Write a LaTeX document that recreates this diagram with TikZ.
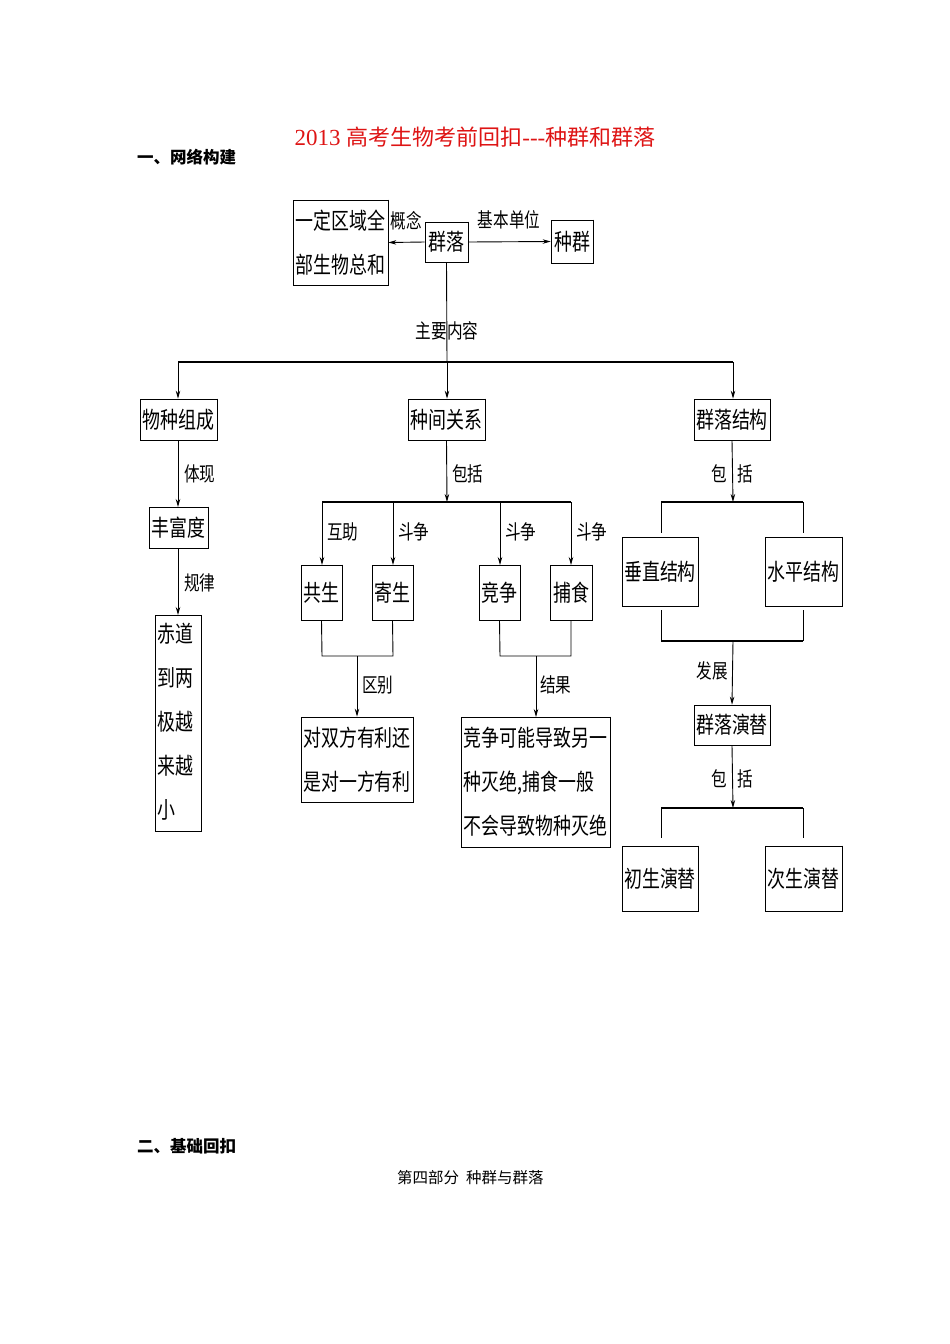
\documentclass[tikz,border=0pt]{standalone}
\usepackage{fontspec}
\usetikzlibrary{arrows.meta}
\newfontfamily\cjk{Noto Sans CJK SC}
\newfontfamily\cjkn[FakeStretch=0.78]{Noto Sans CJK SC}
\newfontfamily\lserif{Liberation Serif}
\definecolor{titlered}{RGB}{222,20,20}
\tikzset{
  bx/.style={draw, line width=0.7pt, inner sep=1pt, align=left,
    font=\cjkn\fontsize{23}{44}\selectfont},
  lbl/.style={inner sep=0pt, font=\cjkn\fontsize{20}{20}\selectfont},
  conn/.style={line width=0.9pt},
  bar/.style={line width=1.4pt},
  arr/.style={line width=0.9pt, -{Stealth[length=8pt,width=4.5pt]}},
  shadowedge/.style={line width=1.4pt}
}
\begin{document}
\begin{tikzpicture}[x=1pt,y=-1pt]
\useasboundingbox (0,0) rectangle (950,1344);
% headings
\node[font=\cjk\fontsize{22}{22}\selectfont, text=titlered] (title) at (475,137) {{\lserif\fontsize{23}{23}\selectfont 2013 }高考生物考前回扣{\lserif\fontsize{23}{23}\selectfont ---}种群和群落};
\node[anchor=west, inner sep=0pt, font=\cjk\bfseries\fontsize{16.5}{16.5}\selectfont] (h1) at (137,157) {一、网络构建};
\node[anchor=west, inner sep=0pt, font=\cjk\bfseries\fontsize{16.5}{16.5}\selectfont] (h2) at (137,1146) {二、基础回扣};
\node[anchor=west, inner sep=0pt, font=\cjk\fontsize{15.5}{15.5}\selectfont] (foot) at (397,1178) {第四部分\ \ 种群与群落};

% top row
\node[bx, minimum width=95, minimum height=85] (def) at (340.5,242.5) {一定区域全\\部生物总和};
\node[bx, minimum width=43, minimum height=40] (ql) at (446.5,242) {群落};
\node[bx, minimum width=42, minimum height=43] (zq) at (572,241.5) {种群};
\draw[arr] (ql.west) -- (def.east);
\draw[arr] (ql.east) -- (zq.west);
\node[lbl] (l1) at (406,221) {概念};
\node[lbl] (l2) at (509,220) {基本单位};

% main split
\coordinate (hL) at (178,362);
\coordinate (hM) at (447,362);
\coordinate (hR) at (733,362);
\draw[conn] (ql.south) -- (hM);
\node[lbl] (l3) at (447,331) {主要内容};
\draw[bar] (hL) -- (hR);

\node[bx, minimum width=77, minimum height=41] (wz) at (178.5,419.5) {物种组成};
\node[bx, minimum width=77, minimum height=41] (zj) at (446.5,419.5) {种间关系};
\node[bx, minimum width=76, minimum height=41] (jg) at (732,419.5) {群落结构};
\draw[arr] (hL) -- (hL |- wz.north);
\draw[arr] (hM) -- (hM |- zj.north);
\draw[arr] (hR) -- (hR |- jg.north);

% left branch
\node[bx, minimum width=59, minimum height=41] (fd) at (178.5,527.5) {丰富度};
\node[bx, minimum width=46, minimum height=216, anchor=north] (cd) at (178,615) {};
\node[anchor=north west, inner sep=0pt, align=left, font=\cjkn\fontsize{23}{44}\selectfont] (cdt) at ([xshift=3pt,yshift=-8pt]cd.north west) {赤道\\到两\\极越\\来越\\小};
\draw[arr] (178,440) -- (178,507);
\node[lbl, anchor=west] (l4) at (184,474) {体现};
\draw[arr] (178,548) -- (cd.north);
\node[lbl, anchor=west] (l5) at (184,583) {规律};

% middle branch
\coordinate (m1) at (447,502);
\draw[arr] (zj.south) -- (m1);
\node[lbl, anchor=west] (l6) at (452,474) {包括};
\draw[bar] (322,502) -- (571,502);
\node[bx, minimum width=41, minimum height=55] (gs) at (321.5,592.5) {共生};
\node[bx, minimum width=41, minimum height=55] (js) at (392.5,592.5) {寄生};
\node[bx, minimum width=41, minimum height=55] (jz) at (499.5,592.5) {竞争};
\node[bx, minimum width=42, minimum height=55] (bs) at (571,592.5) {捕食};
\draw[arr] (322,502) -- (322,565);
\draw[arr] (393,502) -- (393,565);
\draw[arr] (500,502) -- (500,565);
\draw[arr] (571,502) -- (571,565);
\node[lbl, anchor=west] (l7) at (327,532) {互助};
\node[lbl, anchor=west] (l8) at (398,532) {斗争};
\node[lbl, anchor=west] (l9) at (505,532) {斗争};
\node[lbl, anchor=west] (l10) at (576,532) {斗争};

\node[bx, minimum width=112, minimum height=85] (qb) at (357,759.5) {对双方有利还\\是对一方有利};
\node[bx, minimum width=149, minimum height=130] (jg2) at (535.5,782) {竞争可能导致另一\\种灭绝,捕食一般\\不会导致物种灭绝};
\draw[conn] (gs.south) -- (322,656) -- (393,656) -- (js.south);
\draw[arr] (357,656) -- (qb.north);
\node[lbl, anchor=west] (l11) at (362,685) {区别};
\draw[conn] (jz.south) -- (500,656) -- (571,656) -- (bs.south);
\draw[arr] (536,656) -- (536,717);
\node[lbl, anchor=west] (l12) at (540,685) {结果};

% right branch
\draw[arr] (jg.south) -- (733,502);
\node[lbl] (l13) at (719,474) {包};
\node[lbl] (l14) at (745,474) {括};
\draw[bar] (661,502) -- (803,502);
\draw[conn] (661,502) -- (661,533);
\draw[conn] (803,502) -- (803,533);
\node[bx, minimum width=76, minimum height=69] (cz) at (660,571.5) {垂直结构};
\node[bx, minimum width=77, minimum height=69] (sp) at (803.5,571.5) {水平结构};
\draw[conn] (661,610) -- (661,641);
\draw[conn] (803,610) -- (803,641);
\draw[bar] (661,641) -- (803,641);
\node[bx, minimum width=76, minimum height=40] (yt) at (732,725) {群落演替};
\draw[arr] (733,641) -- (yt.north);
\node[lbl] (l15) at (712,671) {发展};
\draw[arr] (yt.south) -- (733,808);
\node[lbl] (l16) at (719,779) {包};
\node[lbl] (l17) at (745,779) {括};
\draw[bar] (661,808) -- (803,808);
\draw[conn] (661,808) -- (661,838);
\draw[conn] (803,808) -- (803,838);
\node[bx, minimum width=76, minimum height=65] (cs) at (660,878.5) {初生演替};
\node[bx, minimum width=77, minimum height=65] (ccs) at (803.5,878.5) {次生演替};

% heavier right and bottom edges
\foreach \n in {def,ql,zq,wz,zj,jg,fd,cd,gs,js,jz,bs,qb,jg2,cz,sp,yt,cs,ccs}
  \draw[shadowedge] (\n.north east) -- (\n.south east) -- (\n.south west);
\end{tikzpicture}
\end{document}
